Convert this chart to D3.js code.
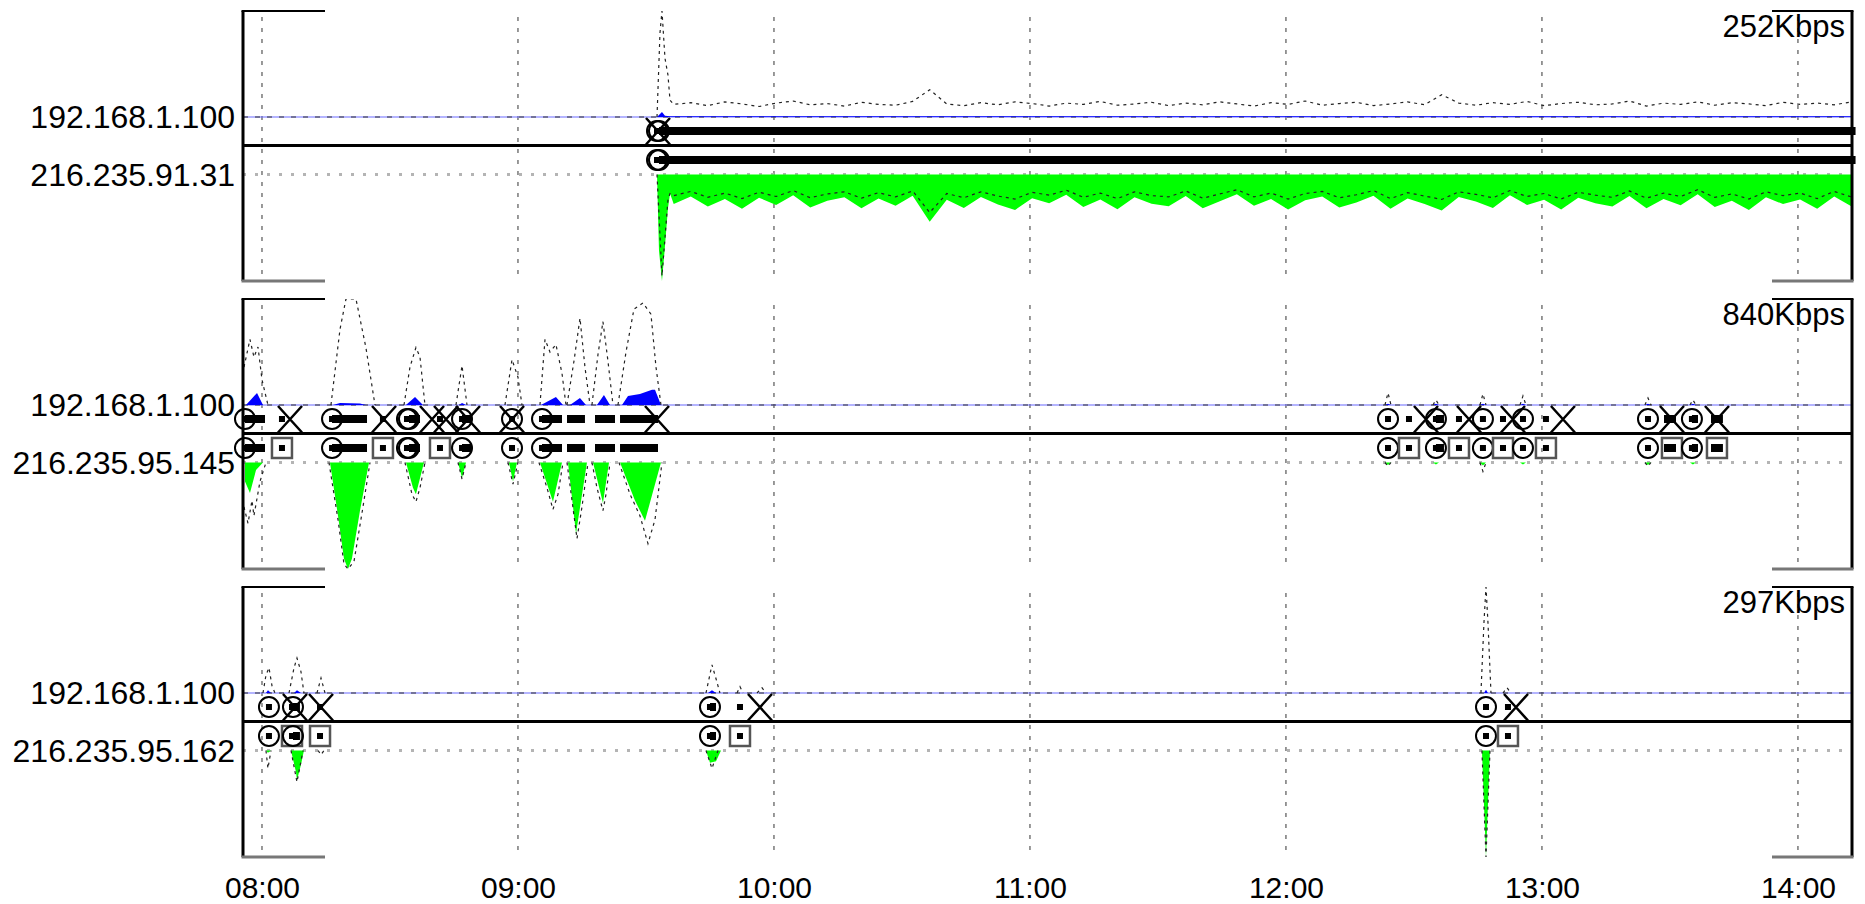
<!DOCTYPE html>
<html>
<head>
<meta charset="utf-8">
<script src="https://cdn.jsdelivr.net/npm/d3@7"></script>
<style>
  body { margin: 0; background: #fff; }
  svg { display: block; font-family: "Liberation Sans", Arial, sans-serif; }
</style>
</head>
<body>
<svg id="chart" width="1865" height="904"></svg>
<script>
// time axis
var hourTicks = ["08:00", "09:00", "10:00", "11:00", "12:00", "13:00", "14:00"];
var spanStart = "07:55:33", spanEnd = "14:12:40";

// conversations
var hostsLocal  = ["192.168.1.100", "192.168.1.100", "192.168.1.100"];
var hostsRemote = ["216.235.91.31", "216.235.95.145", "216.235.95.162"];
var peakKbps = [252, 840, 297];

// ---- conversation 1 : one long stream from 09:33 on ----
var p1SeriesStart = "09:36:30", p1StepMin = 4;
var p1Down = [70, 52, 76, 58, 81, 55, 72, 49, 78, 62, 54, 80, 57, 74, 50, 112, 60, 79, 53, 71, 84, 56, 68, 48,
              77, 59, 82, 54, 69, 75, 51, 80, 63, 47, 74, 58, 83, 61, 52, 78, 66, 50, 81, 57, 70, 85, 53, 64,
              79, 49, 72, 60, 83, 55, 68, 76, 51, 80, 58, 73, 47, 77, 62, 84, 54, 70, 59, 81, 52, 75, 64];
var p1DownDots = [50, 40, 54, 44, 57, 42, 52, 38, 55, 46, 41, 56, 43, 53, 39, 90, 45, 55, 41, 51, 58, 42, 49, 37,
                  54, 44, 57, 41, 50, 53, 39, 56, 46, 36, 53, 44, 58, 45, 40, 55, 48, 38, 57, 43, 51, 59, 41, 47,
                  55, 38, 52, 45, 58, 42, 49, 54, 39, 56, 44, 52, 36, 54, 46, 58, 41, 50, 44, 57, 40, 53, 47];
var p1UpDots = [30, 34, 27, 36, 31, 25, 33, 38, 29, 32, 26, 35, 30, 28, 37, 65, 31, 27, 34, 29, 36, 32, 26, 33,
                30, 37, 28, 31, 35, 27, 33, 29, 36, 31, 26, 34, 30, 38, 28, 32, 35, 27, 31, 36, 29, 53, 33, 28,
                34, 30, 37, 27, 32, 35, 29, 31, 38, 26, 33, 30, 36, 28, 34, 31, 27, 35, 30, 33, 29, 36, 32];
var p1DownHead = [["09:32:35", 0], ["09:33:03", 180], ["09:33:45", 252], ["09:34:27", 170], ["09:35:09", 80], ["09:35:38", 45]];
var p1DownDotsHead = [["09:32:35", 0], ["09:33:45", 240], ["09:35:09", 60], ["09:35:38", 45]];
var p1UpDotsHead = [["09:32:35", 0], ["09:33:17", 200], ["09:33:45", 252], ["09:34:27", 140], ["09:35:09", 100], ["09:35:38", 40]];
var p1Up = [["09:32:35", 0], ["09:33:45", 12], ["09:34:27", 3], ["09:35:38", 2], ["14:12:40", 2]];
// [start, end, close]
var p1Sessions = [["09:32:35", null, "09:32:49"], ["09:33:03", null, null]];
var p1Bars = [["09:33:03", "14:13:30"]];

// ---- conversation 2 ----
var p2Up = [
  ["07:56:15", 0], ["07:58:50", 96], ["08:00:14", 0],
  ["08:16:38", 0], ["08:18:17", 15], ["08:22:58", 12], ["08:24:23", 0],
  ["08:33:45", 0], ["08:35:52", 64], ["08:37:44", 0],
  ["08:46:10", 0], ["08:46:53", 16], ["08:47:49", 0],
  ["09:05:23", 0], ["09:08:54", 64], ["09:10:33", 0],
  ["09:12:11", 0], ["09:14:32", 56], ["09:15:56", 0],
  ["09:18:31", 0], ["09:20:09", 80], ["09:21:34", 0],
  ["09:24:23", 0], ["09:25:47", 72], ["09:28:35", 88], ["09:31:25", 120], ["09:32:07", 120], ["09:33:31", 0],
  ["12:23:12", 0], ["12:23:55", 10], ["12:24:37", 0],
  ["12:34:27", 0], ["12:35:09", 10], ["12:35:52", 0],
  ["12:45:28", 0], ["12:46:10", 10], ["12:46:53", 0],
  ["12:54:51", 0], ["12:55:33", 10], ["12:56:15", 0],
  ["13:24:08", 0], ["13:24:51", 10], ["13:25:33", 0],
  ["13:34:41", 0], ["13:35:23", 10], ["13:36:05", 0]
];
var p2UpDots = [
  ["07:55:47", 300], ["07:57:11", 520], ["07:58:07", 380], ["07:59:04", 460], ["08:00:00", 200], ["08:01:24", 0], [null, null],
  ["08:16:10", 0], ["08:18:17", 600], ["08:19:41", 840], ["08:22:02", 840], ["08:24:23", 450], ["08:26:29", 0], [null, null],
  ["08:33:17", 0], ["08:34:41", 300], ["08:36:05", 456], ["08:37:02", 380], ["08:38:12", 0], [null, null],
  ["08:45:28", 0], ["08:46:53", 312], ["08:48:03", 0], [null, null],
  ["08:56:57", 0], ["08:58:36", 360], ["09:00:00", 220], ["09:00:56", 0], [null, null],
  ["09:05:09", 0], ["09:06:20", 520], ["09:07:30", 420], ["09:08:54", 480], ["09:10:19", 250], ["09:11:15", 0], [null, null],
  ["09:11:29", 0], ["09:13:08", 350], ["09:14:32", 688], ["09:15:42", 300], ["09:16:53", 0], [null, null],
  ["09:17:20", 0], ["09:18:45", 400], ["09:19:55", 660], ["09:21:05", 350], ["09:22:16", 0], [null, null],
  ["09:23:26", 0], ["09:25:19", 420], ["09:27:11", 760], ["09:29:18", 808], ["09:31:10", 720], ["09:32:21", 300], ["09:33:31", 0], [null, null],
  ["12:23:12", 0], ["12:23:55", 96], ["12:24:37", 0], [null, null],
  ["12:34:27", 0], ["12:35:09", 40], ["12:35:52", 0], [null, null],
  ["12:45:28", 0], ["12:46:10", 88], ["12:46:53", 0], [null, null],
  ["12:54:51", 0], ["12:55:33", 72], ["12:56:15", 0], [null, null],
  ["13:24:08", 0], ["13:24:51", 56], ["13:25:33", 0], [null, null],
  ["13:34:41", 0], ["13:35:23", 40], ["13:36:05", 0]
];
var p2Down = [
  ["07:56:01", 150], ["07:57:11", 240], ["07:58:36", 60], ["08:00:14", 0],
  ["08:15:56", 0], ["08:17:49", 420], ["08:19:13", 760], ["08:20:09", 840], ["08:21:05", 760], ["08:22:58", 380], ["08:25:05", 0],
  ["08:33:45", 0], ["08:35:23", 200], ["08:36:05", 250], ["08:37:58", 0],
  ["08:45:56", 0], ["08:46:53", 120], ["08:47:49", 0],
  ["08:57:53", 0], ["08:58:50", 150], ["08:59:46", 0],
  ["09:05:09", 0], ["09:08:12", 310], ["09:10:19", 0],
  ["09:11:43", 0], ["09:13:36", 560], ["09:16:10", 0],
  ["09:17:35", 0], ["09:19:55", 320], ["09:21:20", 0],
  ["09:23:55", 0], ["09:27:25", 300], ["09:29:46", 460], ["09:33:31", 0],
  ["12:23:12", 0], ["12:23:55", 20], ["12:24:37", 0],
  ["12:34:27", 0], ["12:35:09", 16], ["12:35:52", 0],
  ["12:45:28", 0], ["12:46:10", 24], ["12:46:53", 0],
  ["12:54:51", 0], ["12:55:33", 16], ["12:56:15", 0],
  ["13:24:08", 0], ["13:24:51", 20], ["13:25:33", 0],
  ["13:34:41", 0], ["13:35:23", 16], ["13:36:05", 0]
];
var p2DownDots = [
  ["07:55:47", 350], ["07:56:43", 480], ["07:57:39", 300], ["07:58:07", 420], ["07:59:32", 150], ["08:00:56", 0], [null, null],
  ["08:15:42", 0], ["08:17:49", 450], ["08:19:13", 800], ["08:20:09", 840], ["08:21:34", 780], ["08:23:26", 400], ["08:25:19", 0], [null, null],
  ["08:33:31", 0], ["08:35:09", 250], ["08:36:05", 310], ["08:37:02", 200], ["08:38:12", 0], [null, null],
  ["08:45:56", 0], ["08:46:53", 130], ["08:47:49", 0], [null, null],
  ["08:57:39", 0], ["08:58:50", 170], ["09:00:00", 0], [null, null],
  ["09:04:55", 0], ["09:06:48", 200], ["09:08:12", 370], ["09:09:23", 250], ["09:10:33", 0], [null, null],
  ["09:11:29", 0], ["09:12:40", 300], ["09:13:50", 600], ["09:15:00", 350], ["09:16:25", 0], [null, null],
  ["09:17:20", 0], ["09:18:31", 200], ["09:19:55", 380], ["09:20:38", 250], ["09:21:34", 0], [null, null],
  ["09:23:40", 0], ["09:26:15", 250], ["09:28:35", 420], ["09:30:28", 640], ["09:32:07", 450], ["09:33:45", 0], [null, null],
  ["12:23:12", 0], ["12:23:55", 30], ["12:24:37", 0], [null, null],
  ["12:45:28", 0], ["12:46:10", 70], ["12:46:53", 0], [null, null],
  ["13:24:08", 0], ["13:24:51", 30], ["13:25:33", 0]
];
var p2Sessions = [
  ["07:56:01", "08:04:41", "08:06:34"],
  ["08:16:25", "08:28:21", "08:28:36"],
  ["08:33:59", null, "08:39:51"],
  ["08:34:27", "08:41:43", "08:43:08"],
  ["08:46:53", null, "08:48:17"],
  ["08:58:36", null, "08:58:36"],
  ["09:05:38", null, "09:32:35"],
  ["12:23:55", "12:28:50", "12:32:49"],
  ["12:35:09", "12:40:33", "12:42:54"],
  ["12:46:10", "12:50:52", "12:53:12"],
  ["12:55:33", "13:00:56", "13:04:55"],
  ["13:24:51", "13:30:28", "13:30:28"],
  ["13:35:09", "13:41:01", "13:41:01"]
];
var p2Bars = [
  ["07:56:01", "08:00:42"], ["08:16:25", "08:24:37"], ["08:34:27", "08:37:02"], ["08:46:53", "08:48:59"],
  ["09:05:38", "09:10:19"], ["09:11:29", "09:15:42"], ["09:18:03", "09:22:44"], ["09:23:55", "09:32:49"],
  ["12:35:09", "12:37:02"], ["13:28:36", "13:31:25"], ["13:35:09", "13:36:34"], ["13:39:37", "13:42:25"]
];

// ---- conversation 3 ----
var p3Up = [
  ["08:00:56", 0], ["08:01:24", 8], ["08:02:07", 0],
  ["08:07:30", 0], ["08:08:12", 8], ["08:09:08", 0],
  ["09:44:32", 0], ["09:45:28", 8], ["09:46:25", 0],
  ["12:46:25", 0], ["12:46:53", 9], ["12:47:20", 0]
];
var p3UpDots = [
  ["08:00:14", 0], ["08:00:56", 50], ["08:01:38", 71], ["08:02:21", 20], ["08:03:03", 0], [null, null],
  ["08:06:20", 0], ["08:07:30", 70], ["08:08:12", 98], ["08:09:08", 60], ["08:09:50", 0], [null, null],
  ["08:12:53", 0], ["08:13:50", 42], ["08:14:46", 0], [null, null],
  ["09:44:04", 0], ["09:45:28", 79], ["09:46:25", 40], ["09:47:20", 0], [null, null],
  ["09:51:20", 0], ["09:52:02", 18], ["09:52:44", 0], [null, null],
  ["09:56:01", 0], ["09:57:11", 15], ["09:58:08", 0], [null, null],
  ["12:45:42", 0], ["12:46:25", 200], ["12:46:53", 297], ["12:47:20", 200], ["12:48:03", 0], [null, null],
  ["12:50:52", 0], ["12:51:48", 15], ["12:52:44", 0]
];
var p3Down = [
  ["08:00:56", 0], ["08:01:24", 6], ["08:02:07", 0],
  ["08:06:48", 0], ["08:07:58", 60], ["08:08:12", 83], ["08:09:08", 40], ["08:09:50", 0],
  ["09:44:04", 0], ["09:45:00", 34], ["09:46:25", 30], ["09:47:35", 0],
  ["12:45:56", 0], ["12:46:53", 297], ["12:47:49", 0]
];
var p3DownDots = [
  ["08:00:56", 0], ["08:01:24", 50], ["08:02:07", 0], [null, null],
  ["08:06:48", 0], ["08:08:12", 88], ["08:09:37", 0], [null, null],
  ["08:13:08", 0], ["08:13:50", 12], ["08:14:32", 0], [null, null],
  ["09:44:04", 0], ["09:45:28", 50], ["09:46:53", 0], [null, null],
  ["12:45:56", 0], ["12:46:53", 297], ["12:47:49", 0]
];
var p3Sessions = [
  ["08:01:38", "08:07:02", "08:07:44"],
  ["08:07:16", "08:13:36", "08:13:50"],
  ["09:45:00", "09:52:02", "09:56:43"],
  ["12:46:53", "12:52:02", "12:53:55"]
];
var p3Bars = [["08:07:16", "08:08:54"], ["09:45:00", "09:46:25"]];

// ------------------------------------------------------------------
var parseT = d3.timeParse("%H:%M:%S"),
    parseH = d3.timeParse("%H:%M");

function pts(arr) {
  return arr.map(function (d) { return d[0] === null ? null : [parseT(d[0]), d[1]]; });
}
function stepSeries(startStr, stepMin, values) {
  var t0 = parseT(startStr);
  return values.map(function (v, i) { return [d3.timeMinute.offset(t0, i * stepMin), v]; });
}

var panels = [
  { up: pts(p1Up),
    upDots: pts(p1UpDotsHead).concat(stepSeries(p1SeriesStart, p1StepMin, p1UpDots)),
    down: pts(p1DownHead).concat(stepSeries(p1SeriesStart, p1StepMin, p1Down)),
    downDots: pts(p1DownDotsHead).concat(stepSeries(p1SeriesStart, p1StepMin, p1DownDots)),
    sessions: p1Sessions, bars: p1Bars },
  { up: pts(p2Up), upDots: pts(p2UpDots), down: pts(p2Down), downDots: pts(p2DownDots),
    sessions: p2Sessions, bars: p2Bars },
  { up: pts(p3Up), upDots: pts(p3UpDots), down: pts(p3Down), downDots: pts(p3DownDots),
    sessions: p3Sessions, bars: p3Bars }
];

var svg = d3.select("#chart");
var left = 243, right = 1852;
var x = d3.scaleTime()
      .domain([parseT(spanStart), parseT(spanEnd)])
      .range([left, right]);

var panelTop = [11, 299, 587],
    panelH = 270;

panels.forEach(function (p, i) {
  var top = panelTop[i],
      upBase = top + 106,
      midY = top + 134.5,
      dnBase = top + 163.5,
      rowA = top + 120,
      rowB = top + 149;

  var yUp = d3.scaleLinear().domain([0, peakKbps[i]]).range([upBase, top]);
  var yDn = d3.scaleLinear().domain([0, peakKbps[i]]).range([dnBase, top + panelH]);

  var g = svg.append("g");

  svg.append("clipPath").attr("id", "clip" + i)
    .append("rect").attr("x", left).attr("y", top).attr("width", right - left).attr("height", panelH);

  /* hour grid */
  g.selectAll(".grid")
    .data(hourTicks)
    .enter().append("line")
    .attr("x1", function (d) { return x(parseH(d)); })
    .attr("x2", function (d) { return x(parseH(d)); })
    .attr("y1", top + 6)
    .attr("y2", top + panelH)
    .style("stroke", "#333")
    .style("stroke-width", 1)
    .style("stroke-dasharray", "4,7");

  /* base lines */
  g.append("line").attr("x1", left).attr("x2", right).attr("y1", upBase).attr("y2", upBase)
    .style("stroke", "#6b6bff").style("stroke-width", 1.2);
  g.append("line").attr("x1", left).attr("x2", right).attr("y1", upBase).attr("y2", upBase)
    .style("stroke", "#333").style("stroke-width", 1).style("stroke-dasharray", "5,7");
  g.append("line").attr("x1", left).attr("x2", right).attr("y1", dnBase).attr("y2", dnBase)
    .style("stroke", "#b4b4b4").style("stroke-width", 3).style("stroke-dasharray", "3,9");

  var data = g.append("g").attr("clip-path", "url(#clip" + i + ")");

  /* rates */
  data.append("path")
    .datum(p.up)
    .attr("d", d3.area().x(function (d) { return x(d[0]); }).y0(upBase).y1(function (d) { return yUp(d[1]); }))
    .style("fill", "#0000ff");
  data.append("path")
    .datum(p.down)
    .attr("d", d3.area().x(function (d) { return x(d[0]); }).y0(dnBase).y1(function (d) { return yDn(d[1]); }))
    .style("fill", "#00ff00");

  var dotted = function (scale) {
    return d3.line()
      .defined(function (d) { return d !== null; })
      .x(function (d) { return x(d[0]); })
      .y(function (d) { return scale(d[1]); });
  };
  data.append("path").datum(p.upDots).attr("d", dotted(yUp))
    .style("fill", "none").style("stroke", "#222").style("stroke-width", 1.2).style("stroke-dasharray", "3,4");
  data.append("path").datum(p.downDots).attr("d", dotted(yDn))
    .style("fill", "none").style("stroke", "#222").style("stroke-width", 1.2).style("stroke-dasharray", "3,4");

  /* separator */
  g.append("line").attr("x1", left).attr("x2", right).attr("y1", midY).attr("y2", midY)
    .style("stroke", "#000").style("stroke-width", 3);

  /* connection symbols */
  var sym = g.append("g");
  p.sessions.forEach(function (s) {
    var xs = x(parseT(s[0]));
    [rowA, rowB].forEach(function (ry) {
      sym.append("circle").attr("cx", xs).attr("cy", ry).attr("r", 10)
        .style("fill", "none").style("stroke", "#000").style("stroke-width", 2);
      sym.append("rect").attr("x", xs - 3).attr("y", ry - 3).attr("width", 6).attr("height", 6)
        .style("fill", "#000");
    });
    if (s[1]) {
      var xe = x(parseT(s[1]));
      sym.append("rect").attr("x", xe - 3).attr("y", rowA - 3).attr("width", 6).attr("height", 6)
        .style("fill", "#000");
      sym.append("rect").attr("x", xe - 10).attr("y", rowB - 10).attr("width", 20).attr("height", 20)
        .style("fill", "none").style("stroke", "#555").style("stroke-width", 2.5);
      sym.append("rect").attr("x", xe - 3).attr("y", rowB - 3).attr("width", 6).attr("height", 6)
        .style("fill", "#000");
    }
  });

  g.selectAll(".barA")
    .data(p.bars)
    .enter().append("line")
    .attr("x1", function (d) { return x(parseT(d[0])); })
    .attr("x2", function (d) { return x(parseT(d[1])); })
    .attr("y1", rowA).attr("y2", rowA)
    .style("stroke", "#000").style("stroke-width", 8);
  g.selectAll(".barB")
    .data(p.bars)
    .enter().append("line")
    .attr("x1", function (d) { return x(parseT(d[0])); })
    .attr("x2", function (d) { return x(parseT(d[1])); })
    .attr("y1", rowB).attr("y2", rowB)
    .style("stroke", "#000").style("stroke-width", 8);

  p.sessions.forEach(function (s) {
    if (!s[2]) return;
    var xc = x(parseT(s[2]));
    g.append("path")
      .attr("d", "M" + (xc - 12) + "," + (upBase + 1) + "L" + (xc + 12) + "," + (midY - 1) +
                 "M" + (xc + 12) + "," + (upBase + 1) + "L" + (xc - 12) + "," + (midY - 1))
      .style("fill", "none").style("stroke", "#000").style("stroke-width", 2.5);
  });

  /* frame brackets */
  g.append("line").attr("x1", left).attr("x2", left).attr("y1", top).attr("y2", top + panelH)
    .style("stroke", "#000").style("stroke-width", 3);
  g.append("line").attr("x1", right).attr("x2", right).attr("y1", top).attr("y2", top + panelH)
    .style("stroke", "#000").style("stroke-width", 3);
  [[left - 1.5, left + 82], [right - 80, right + 1.5]].forEach(function (a) {
    g.append("line").attr("x1", a[0]).attr("x2", a[1]).attr("y1", top).attr("y2", top)
      .style("stroke", "#000").style("stroke-width", 2);
    g.append("line").attr("x1", a[0]).attr("x2", a[1]).attr("y1", top + panelH).attr("y2", top + panelH)
      .style("stroke", "#777").style("stroke-width", 3);
  });

  /* labels */
  g.append("text").attr("x", 235).attr("y", upBase + 11)
    .attr("text-anchor", "end").style("font-size", "32px").text(hostsLocal[i]);
  g.append("text").attr("x", 235).attr("y", dnBase + 11)
    .attr("text-anchor", "end").style("font-size", "32px").text(hostsRemote[i]);
  g.append("text").attr("x", 1845).attr("y", top + 26)
    .attr("text-anchor", "end").style("font-size", "31px").text(peakKbps[i] + "Kbps");
});

/* time labels */
var xAxis = d3.axisBottom(x)
      .tickValues(hourTicks.map(function (d) { return parseH(d); }))
      .tickFormat(d3.timeFormat("%H:%M"))
      .tickSize(0)
      .tickPadding(0);

var ax = svg.append("g")
      .attr("transform", "translate(0,877)")
      .call(xAxis);
ax.select(".domain").remove();
ax.selectAll("text")
  .style("font-family", "\"Liberation Sans\", Arial, sans-serif")
  .style("font-size", "30px")
  .style("fill", "#000");
</script>
</body>
</html>
